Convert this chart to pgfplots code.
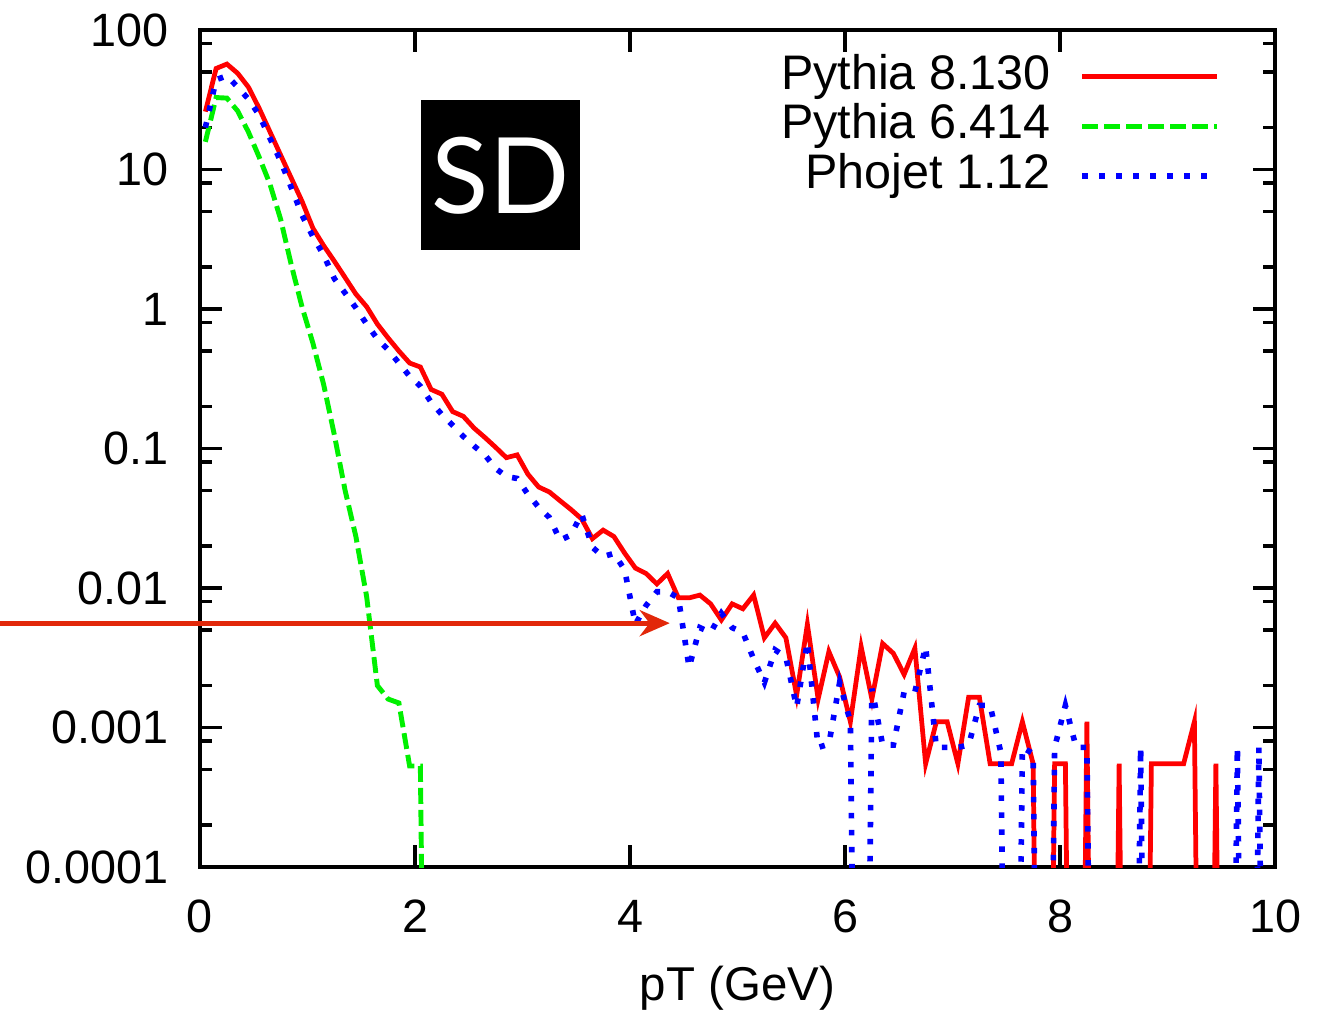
\documentclass[border=0pt]{standalone}
\usepackage{fontspec}
\setmainfont{Liberation Sans}
\newfontfamily\sdfont{Lato}
\usepackage{pgfplots}
\usepackage{pgfplotstable}
\pgfplotsset{compat=1.18}
\usetikzlibrary{calc,arrows.meta}

\definecolor{pyeight}{RGB}{255,0,0}
\definecolor{pysix}{RGB}{0,240,0}
\definecolor{phojet}{RGB}{0,0,255}
\definecolor{arrowred}{RGB}{226,40,10}

% pT spectra, bins of 0.1 GeV (empty bins written as 1e-10)
\pgfplotstableread{
x y
0.05 26
0.15 53
0.25 57
0.35 49
0.45 39
0.55 27.5
0.65 18.7
0.75 12.7
0.85 8.65
0.95 5.9
1.05 3.8
1.15 2.85
1.25 2.2
1.35 1.68
1.45 1.28
1.55 1.04
1.65 0.78
1.75 0.62
1.85 0.5
1.95 0.41
2.05 0.384
2.15 0.265
2.25 0.245
2.35 0.184
2.45 0.17
2.55 0.14
2.65 0.12
2.75 0.102
2.85 0.086
2.95 0.09
3.05 0.0655
3.15 0.053
3.25 0.0488
3.35 0.0422
3.45 0.0366
3.55 0.0313
3.65 0.0226
3.75 0.026
3.85 0.0234
3.95 0.0178
4.05 0.0139
4.15 0.0127
4.25 0.0107
4.35 0.0127
4.45 0.0085
4.55 0.0085
4.65 0.0089
4.75 0.0077
4.85 0.0059
4.95 0.0077
5.05 0.0071
5.15 0.0089
5.25 0.0044
5.35 0.0056
5.45 0.0044
5.55 0.0017
5.65 0.0055
5.75 0.0016
5.85 0.0035
5.95 0.0023
6.05 0.0011
6.15 0.0038
6.25 0.0016
6.35 0.0040
6.45 0.0034
6.55 0.0024
6.65 0.0037
6.75 0.00055
6.85 0.0011
6.95 0.0011
7.05 0.00055
7.15 0.00165
7.25 0.00165
7.35 0.00055
7.45 0.00055
7.55 0.00055
7.65 0.0011
7.75 0.00055
7.85 1e-10
7.95 0.00055
8.05 0.00055
8.15 1e-10
8.25 0.0011
8.35 1e-10
8.45 1e-10
8.55 0.00055
8.65 1e-10
8.75 1e-10
8.85 0.00055
8.95 0.00055
9.05 0.00055
9.15 0.00055
9.25 0.0011
9.35 1e-10
9.45 0.00055
9.55 1e-10
9.65 1e-10
9.75 1e-10
9.85 1e-10
9.95 1e-10
}\pyeighttab

\pgfplotstableread{
x y
0.05 15.8
0.15 32.8
0.25 32.5
0.35 26.3
0.45 18.6
0.55 12.3
0.65 7.9
0.75 4.4
0.85 2.06
0.95 1.03
1.05 0.57
1.15 0.288
1.25 0.125
1.35 0.050
1.45 0.0234
1.55 0.0087
1.65 0.0020
1.75 0.0016
1.85 0.0015
1.95 0.00053
2.05 0.00053
2.15 1e-10
2.25 1e-10
}\pysixtab

\pgfplotstableread{
x y
0.05 20
0.15 44
0.25 47
0.35 39
0.45 32
0.55 24.6
0.65 16.8
0.75 11.5
0.85 7.4
0.95 4.7
1.05 3.3
1.15 2.44
1.25 1.65
1.35 1.3
1.45 1.02
1.55 0.78
1.65 0.61
1.75 0.51
1.85 0.41
1.95 0.33
2.05 0.28
2.15 0.215
2.25 0.175
2.35 0.147
2.45 0.122
2.55 0.104
2.65 0.09
2.75 0.072
2.85 0.063
2.95 0.061
3.05 0.047
3.15 0.038
3.25 0.032
3.35 0.022
3.45 0.024
3.55 0.034
3.65 0.0196
3.75 0.0168
3.85 0.0177
3.95 0.0135
4.05 0.0055
4.15 0.0075
4.25 0.0094
4.35 0.0094
4.45 0.0085
4.55 0.0027
4.65 0.0052
4.75 0.0048
4.85 0.0066
4.95 0.0052
5.05 0.0048
5.15 0.0031
5.25 0.0021
5.35 0.0036
5.45 0.0032
5.55 0.0014
5.65 0.0041
5.75 0.00072
5.85 0.00076
5.95 0.0021
6.05 0.0011
6.15 1e-10
6.25 0.0019
6.35 0.00075
6.45 0.00075
6.55 0.0018
6.65 0.0018
6.75 0.0038
6.85 0.00072
6.95 0.00072
7.05 0.00072
7.15 0.00075
7.25 0.00144
7.35 0.00144
7.45 0.00066
7.55 1e-10
7.65 0.00072
7.75 0.00065
7.85 1e-10
7.95 0.00072
8.05 0.00144
8.15 0.00072
8.25 0.00072
8.35 1e-10
8.45 1e-10
8.55 1e-10
8.65 1e-10
8.75 0.00072
8.85 1e-10
8.95 1e-10
9.05 1e-10
9.15 1e-10
9.25 1e-10
9.35 1e-10
9.45 1e-10
9.55 1e-10
9.65 0.00072
9.75 1e-10
9.85 0.00072
9.95 1e-10
}\phojettab

\begin{document}
\fontsize{13}{15}\selectfont
\begin{tikzpicture}
\begin{axis}[
    name=ax,
    scale only axis,
    width=10.75cm, height=8.37cm,
    ymode=log,
    xmin=0, xmax=10,
    ymin=1e-4, ymax=100,
    axis line style={line width=1pt},
    every tick/.style={black, line width=1pt},
    tick align=inside,
    xtick pos=both, ytick pos=both,
    major tick length=2.2mm,
    minor tick length=1.2mm,
    xtick={0,2,4,6,8,10},
    xticklabels={0,2,4,6,8,10},
    ytick={1e-4,1e-3,1e-2,1e-1,1,10,100},
    yticklabels={0.0001,0.001,0.01,0.1,1,10,100},
    minor ytick={2e-4,5e-4,8e-4,2e-3,5e-3,8e-3,2e-2,5e-2,8e-2,0.2,0.5,0.8,2,5,8,20,50,80},
    xticklabel style={yshift=-1.7mm},
    yticklabel style={xshift=-1.6mm},
    tick label style={font=\fontsize{13.3}{15}\selectfont},
    xlabel={pT (GeV)},
    xlabel style={at={(axis description cs:0.5,0)}, anchor=center, yshift=-12.1mm, font=\fontsize{13.5}{15}\selectfont},
    clip mode=individual,
    legend plot pos=right,
    legend cell align=right,
    legend style={draw=none, fill=none, at={(rel axis cs:1,1)}, anchor=north east,
        xshift=-5.4mm, yshift=-2.4mm, inner sep=0pt, row sep=1.5pt, column sep=2.9mm,
        font=\fontsize{13.8}{15}\selectfont,
        nodes={inner sep=0pt, text height=9.8pt, text depth=2.8pt}},
    legend image code/.code={\draw[#1] (0cm,0cm) -- (1.35cm,0cm);},
    line join=miter,
]
\fill[black] (axis cs:2.056,31.5) rectangle (axis cs:3.535,2.65);
\node[text=white, font=\sdfont\fontsize{30}{32}\selectfont] at (axis cs:2.795,9.1) {SD};

\addplot[pyeight, line width=1.35pt] table[x=x, y=y] {\pyeighttab};
\addlegendentry{Pythia 8.130}
\addplot[pysix, line width=1.4pt, dash pattern=on 1.6mm off 0.6mm] table[x=x, y=y] {\pysixtab};
\addlegendentry{Pythia 6.414}
\addplot[phojet, line width=1.6pt, line cap=butt, dash pattern=on 0.55mm off 1.15mm] table[x=x, y=y] {\phojettab};
\addlegendentry{Phojet 1.12}

\draw[arrowred, line width=1.5pt, -{Stealth[length=3mm, width=2.6mm]}]
    (axis cs:-1.86,0.0056) -- (axis cs:4.37,0.0056);
\end{axis}
\pgfresetboundingbox
\useasboundingbox ($(ax.south west)+(-2cm,-1.45cm)$) rectangle ($(ax.north east)+(0.56cm,0.3cm)$);
\end{tikzpicture}
\end{document}
